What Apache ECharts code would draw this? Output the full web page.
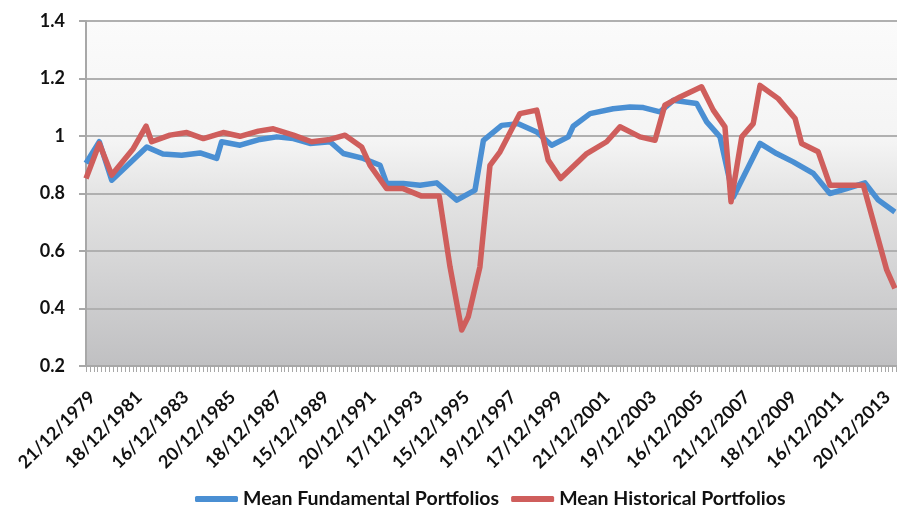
<!DOCTYPE html>
<html>
<head>
<meta charset="utf-8">
<script src="https://cdn.jsdelivr.net/npm/echarts@6/dist/echarts.min.js"></script>
<style>
html,body{margin:0;padding:0;background:#fff;}
#c{width:897px;height:506px;}
</style>
</head>
<body>
<div id="c"></div>
<script>
// x positions: years after 21/12/1979
var tickLabels = ['21/12/1979','18/12/1981','16/12/1983','20/12/1985','18/12/1987','15/12/1989','20/12/1991','17/12/1993','15/12/1995','19/12/1997','17/12/1999','21/12/2001','19/12/2003','16/12/2005','21/12/2007','18/12/2009','16/12/2011','20/12/2013'];

var fundYears = [0,0.57,1.10,2.60,3.29,4.09,4.88,5.59,5.80,6.59,7.44,8.16,8.87,9.58,10.44,11.01,11.86,12.58,12.86,13.57,14.29,15.00,15.86,16.64,17.00,17.78,18.49,19.28,19.92,20.63,20.84,21.56,22.55,23.27,23.84,24.55,25.12,26.12,26.55,27.12,27.69,28.83,29.54,30.25,31.11,31.82,32.54,33.32,33.89,34.60];
var fundValues = [0.905,0.98,0.846,0.962,0.937,0.933,0.941,0.922,0.98,0.968,0.988,0.997,0.991,0.974,0.98,0.939,0.922,0.898,0.835,0.835,0.829,0.837,0.777,0.812,0.985,1.037,1.043,1.014,0.968,0.997,1.034,1.078,1.095,1.101,1.099,1.084,1.124,1.113,1.049,0.997,0.788,0.974,0.939,0.91,0.87,0.80,0.817,0.837,0.777,0.736];

var histYears = [0,0.57,1.10,2.02,2.57,2.81,3.59,4.31,5.02,5.87,6.59,7.37,8.01,8.87,9.65,10.44,11.08,11.79,12.15,12.86,13.57,14.36,15.11,15.57,16.07,16.35,16.85,17.28,17.71,18.56,19.28,19.77,20.30,21.42,22.27,22.84,23.70,24.34,24.76,25.41,26.33,26.83,27.33,27.59,28.05,28.54,28.83,29.61,30.33,30.61,31.32,31.82,33.25,34.25,34.60];
var histValues = [0.852,0.974,0.864,0.956,1.034,0.98,1.003,1.012,0.991,1.012,0.999,1.017,1.025,1.003,0.98,0.988,1.003,0.962,0.898,0.817,0.817,0.791,0.791,0.545,0.325,0.371,0.545,0.898,0.945,1.078,1.09,0.916,0.852,0.939,0.98,1.032,0.997,0.985,1.107,1.136,1.171,1.09,1.032,0.771,0.997,1.043,1.176,1.13,1.061,0.974,0.945,0.829,0.829,0.534,0.47];

function pairs(xs, ys){ return xs.map(function(x,i){ return [x, ys[i]]; }); }

var chart = echarts.init(document.getElementById('c'), null, {renderer:'canvas'});
var font = 'Lato, "Open Sans", "DejaVu Sans", sans-serif';
chart.setOption({
  animation: false,
  backgroundColor: '#ffffff',
  grid: {
    left: 86, right: 0, top: 21, bottom: 140,
    show: true, borderWidth: 0,
    backgroundColor: new echarts.graphic.LinearGradient(0,0,0,1,[
      {offset:0, color:'#fbfbfb'},
      {offset:0.35, color:'#f4f4f4'},
      {offset:0.5, color:'#e4e4e4'},
      {offset:1, color:'#c0c0c2'}
    ])
  },
  legend: {
    top: 484, left: 190,
    itemWidth: 43, itemHeight: 6, itemGap: 12,
    icon: 'roundRect',
    textStyle: {fontFamily: font, fontWeight: 'bold', fontSize: 19.5, color: '#111'},
    data: ['Mean Fundamental Portfolios','Mean Historical Portfolios']
  },
  xAxis: {
    type: 'value', min: 0, max: 34.69, interval: 2,
    axisLine: {show: true, lineStyle: {color: '#a8a8a8', width: 2}},
    axisTick: {show: true, length: 6, lineStyle: {color: '#a8a8a8'}},
    minorTick: {show: true, splitNumber: 12, length: 6, lineStyle: {color: '#a8a8a8'}},
    splitLine: {show: false},
    axisLabel: {
      rotate: 45, margin: 22, showMaxLabel: false, verticalAlign: 'top',
      fontFamily: font, fontWeight: 'bold', fontSize: 18, color: '#111',
      formatter: function(v){ var i = Math.round(v/2); return tickLabels[i] || ''; }
    }
  },
  yAxis: {
    type: 'value', min: 0.2, max: 1.4, interval: 0.2,
    axisLine: {show: true, lineStyle: {color: '#a8a8a8', width: 2}},
    axisTick: {show: true, length: 7, lineStyle: {color: '#a8a8a8', width: 2}},
    splitLine: {lineStyle: {color: '#b0b0b0', width: 2}},
    axisLabel: {
      margin: 21, fontFamily: font, fontWeight: 'bold', fontSize: 18, color: '#111',
      formatter: function(v){ return String(Math.round(v*10)/10); }
    }
  },
  series: [
    {
      name: 'Mean Fundamental Portfolios', type: 'line', showSymbol: false, symbol: 'none',
      data: pairs(fundYears, fundValues),
      itemStyle: {color: '#4a8fd3'},
      lineStyle: {color: '#4a8fd3', width: 5.5, join: 'round'}
    },
    {
      name: 'Mean Historical Portfolios', type: 'line', showSymbol: false, symbol: 'none',
      data: pairs(histYears, histValues),
      itemStyle: {color: '#cf5e5c'},
      lineStyle: {color: '#cf5e5c', width: 5.5, join: 'round'}
    }
  ]
});
</script>
</body>
</html>
